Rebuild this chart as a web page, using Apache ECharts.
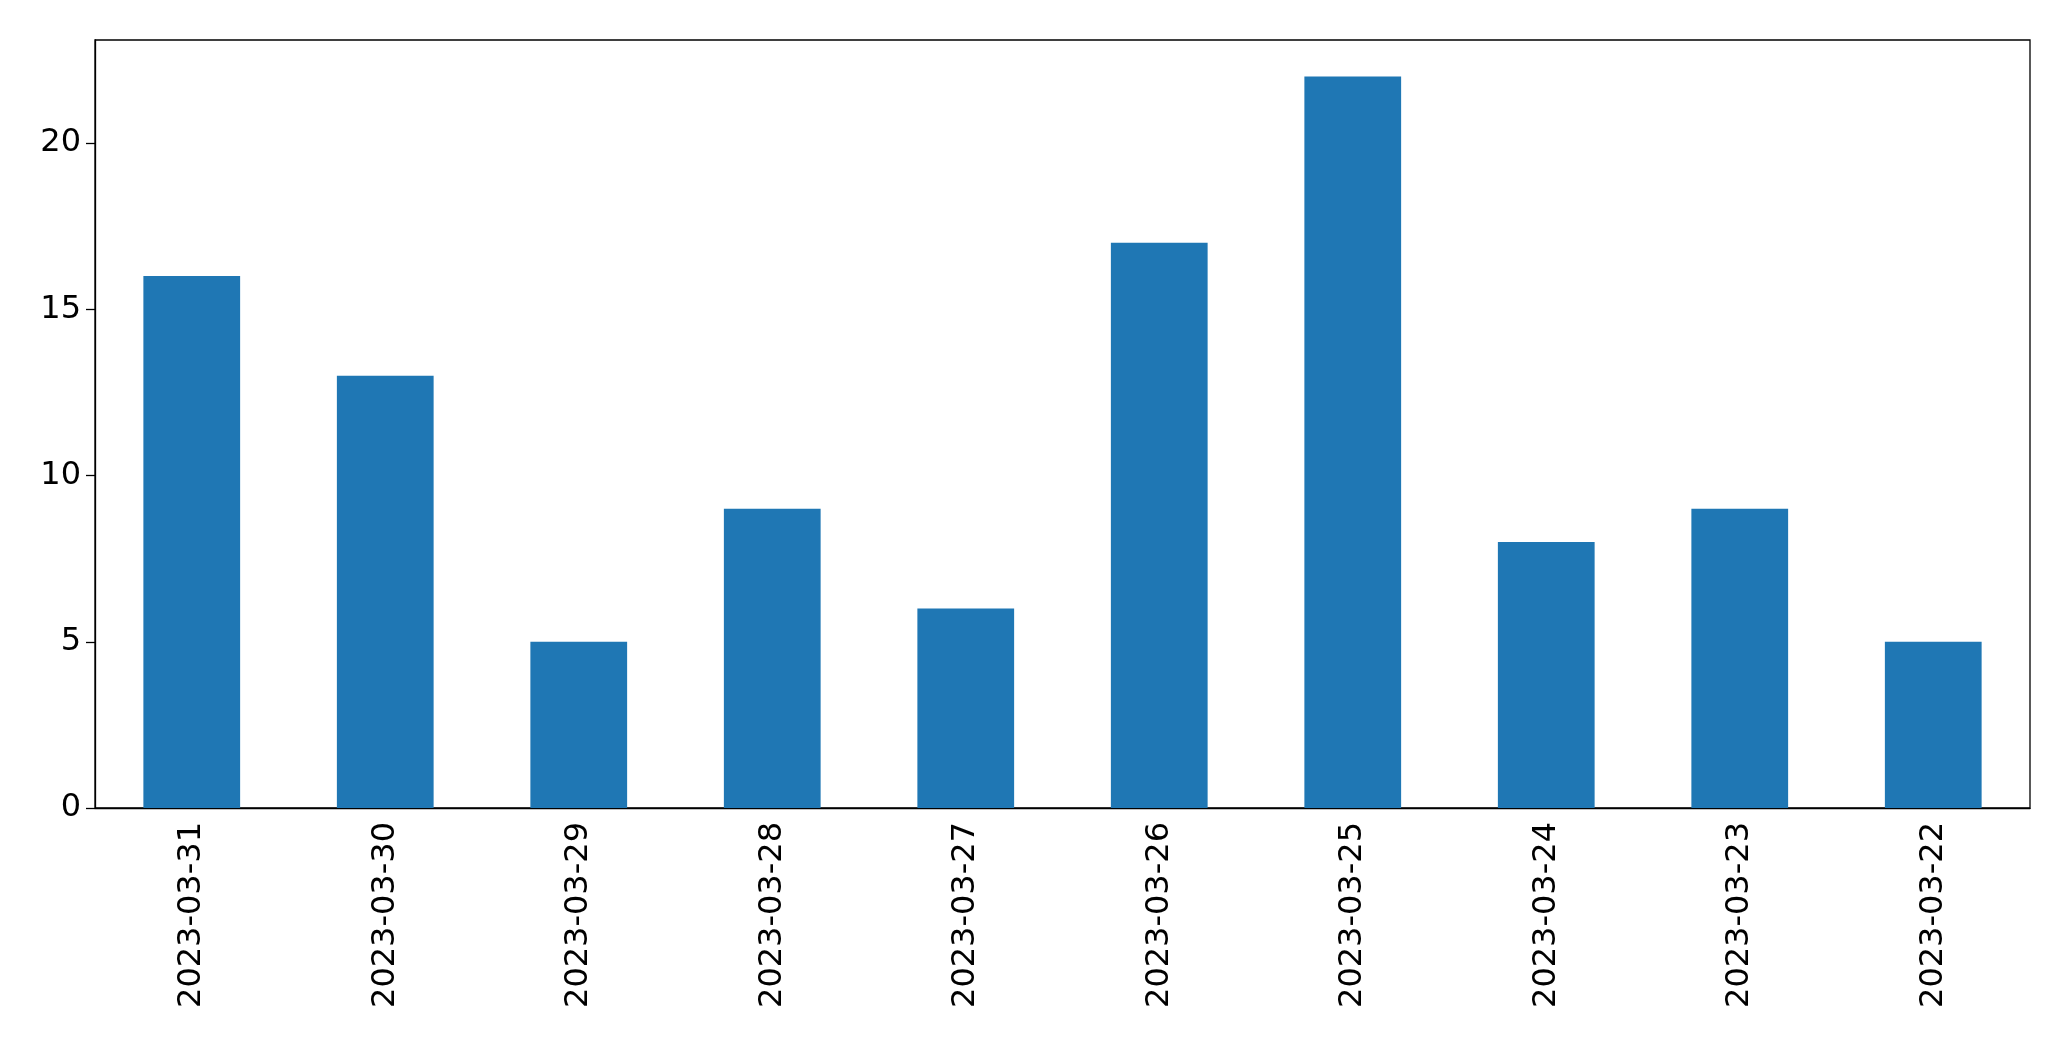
<!DOCTYPE html>
<html><head><meta charset="utf-8">
<script src="https://cdn.jsdelivr.net/npm/echarts@6/dist/echarts.min.js"></script>
<style>html,body{margin:0;padding:0;background:#fff}#c{width:2071px;height:1061px}</style>
</head><body><div id="c"></div>
<script>
const categories = ["2023-03-31","2023-03-30","2023-03-29","2023-03-28","2023-03-27","2023-03-26","2023-03-25","2023-03-24","2023-03-23","2023-03-22"];
const values = [16,13,5,9,6,17,22,8,9,5];
const chart = echarts.init(document.getElementById('c'));
chart.setOption({
  animation:false,
  grid:{left:95,right:41,top:40,bottom:253,show:true,borderColor:'#000',borderWidth:1.3},
  xAxis:{type:'category',data:categories,boundaryGap:true,
    axisLine:{lineStyle:{color:'#000',width:1.3}},
    axisTick:{alignWithLabel:true,length:9,lineStyle:{color:'#000',width:1.3}},
    axisLabel:{rotate:90,color:'#000',fontSize:32,fontFamily:'DejaVu Sans',margin:14}},
  yAxis:{type:'value',min:0,max:23.1,interval:5,splitLine:{show:false},
    axisLine:{show:true,lineStyle:{color:'#000',width:1.3}},
    axisTick:{show:true,length:9,lineStyle:{color:'#000',width:1.3}},
    axisLabel:{color:'#000',fontSize:32,fontFamily:'DejaVu Sans',margin:14,showMaxLabel:false}},
  series:[{type:'bar',data:values,barWidth:'50%',itemStyle:{color:'#1f77b4'}}]
});
</script></body></html>
